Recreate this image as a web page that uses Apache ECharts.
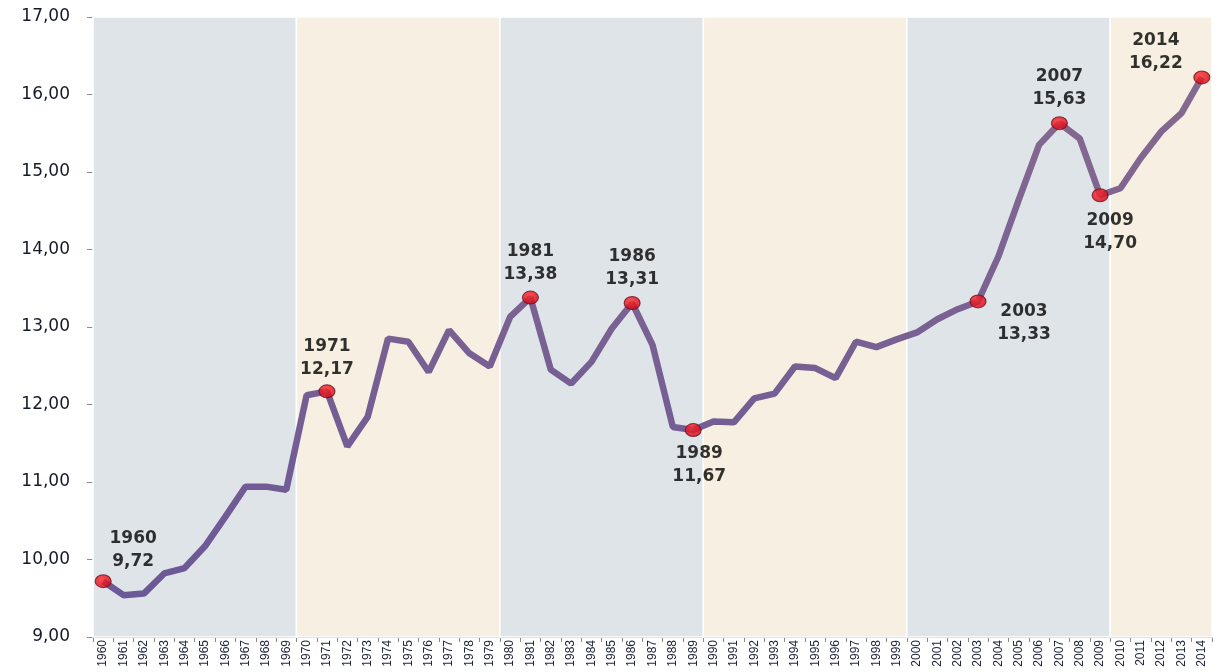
<!DOCTYPE html>
<html>
<head>
<meta charset="utf-8">
<script src="https://cdn.jsdelivr.net/npm/echarts@6/dist/echarts.min.js"></script>
<style>
  html, body { margin: 0; padding: 0; background: #fff; }
  #chart { width: 1220px; height: 672px; }
</style>
</head>
<body>
<div id="chart"></div>
<script>
const years = [];
for (let y = 1960; y <= 2014; y++) years.push(String(y));

const values = [
  9.72, 9.54, 9.56, 9.82, 9.89, 10.17, 10.55, 10.94, 10.94, 10.90,
  12.12, 12.17, 11.46, 11.84, 12.85, 12.81, 12.42, 12.96, 12.66, 12.49,
  13.13, 13.38, 12.45, 12.27, 12.55, 12.98, 13.31, 12.77, 11.71, 11.67,
  11.78, 11.77, 12.08, 12.14, 12.49, 12.47, 12.34, 12.81, 12.74, 12.84,
  12.93, 13.10, 13.23, 13.33, 13.91, 14.64, 15.35, 15.63, 15.43, 14.70,
  14.79, 15.18, 15.52, 15.76, 16.22
];

const highlightYears = ['1960', '1971', '1981', '1986', '1989', '2003', '2007', '2009', '2014'];

const decadeStarts = [1960, 1970, 1980, 1990, 2000, 2010];
const decadeEnds = [1969, 1979, 1989, 1999, 2009, 2014];

// where each highlighted label sits relative to its point
const labelPlace = {
  '1960': { position: 'top', offset: [30, 4] },
  '1971': { position: 'top', offset: [0, 2] },
  '1981': { position: 'top', offset: [0, 0] },
  '1986': { position: 'top', offset: [0, 0] },
  '1989': { position: 'bottom', offset: [6, 0] },
  '2003': { position: 'bottom', offset: [46, -13] },
  '2007': { position: 'top', offset: [0, 0] },
  '2009': { position: 'bottom', offset: [10, 2] },
  '2014': { position: 'top', offset: [-46, 10] }
};

const fmt = v => v.toFixed(2).replace('.', ',');

const bandColors = ['#dfe4e9', '#f7efe2'];
const bands = decadeStarts.map((s, i) => [
  { xAxis: s - 0.5, itemStyle: { color: bandColors[i % 2] } },
  { xAxis: decadeEnds[i] + 0.5 }
]);

const highlightData = highlightYears.map(y => {
  const v = values[years.indexOf(y)];
  return {
    value: [y, v],
    label: {
      show: true,
      position: labelPlace[y].position,
      offset: labelPlace[y].offset,
      formatter: y + '\n' + fmt(v)
    }
  };
});

const chart = echarts.init(document.getElementById('chart'));
chart.setOption({
  animation: false,
  grid: { left: 93, right: 8, top: 17, bottom: 35 },
  xAxis: [
    {
      type: 'category',
      data: years,
      boundaryGap: true,
      axisLine: { lineStyle: { color: '#8c8c8c' } },
      axisTick: { show: true, length: 5, lineStyle: { color: '#8c8c8c' } },
      axisLabel: {
        interval: 0,
        rotate: 90,
        margin: 3,
        fontFamily: 'Liberation Sans',
        fontSize: 12,
        color: '#22263a'
      },
      splitLine: { show: false }
    },
    {
      type: 'value',
      min: 1959.5,
      max: 2014.5,
      show: false
    }
  ],
  yAxis: {
    type: 'value',
    min: 9,
    max: 17,
    interval: 1,
    axisLine: { show: true, lineStyle: { color: '#8c8c8c' } },
    axisTick: { show: true, length: 6, lineStyle: { color: '#8c8c8c' } },
    axisLabel: {
      formatter: v => fmt(v),
      fontFamily: 'DejaVu Sans',
      fontSize: 17,
      color: '#141a28',
      margin: 23
    },
    splitLine: { lineStyle: { color: '#c4c4c4', width: 1 } }
  },
  series: [
    {
      type: 'line',
      xAxisIndex: 1,
      data: [],
      silent: true,
      markArea: {
        silent: true,
        itemStyle: { borderColor: '#ffffff', borderWidth: 1.5 },
        data: bands
      },
      z: 0
    },
    {
      type: 'line',
      data: values,
      symbol: 'none',
      lineStyle: {
        width: 6.5,
        color: new echarts.graphic.LinearGradient(0, 0, 0, 1, [
          { offset: 0, color: '#86698f' },
          { offset: 1, color: '#6b5896' }
        ])
      },
      z: 2
    },
    {
      type: 'scatter',
      data: highlightData,
      symbol: 'circle',
      symbolSize: [16, 13],
      itemStyle: {
        color: new echarts.graphic.RadialGradient(0.4, 0.35, 0.7, [
          { offset: 0, color: '#ff2a2a' },
          { offset: 1, color: '#d00010' }
        ]),
        borderColor: '#6a1020',
        borderWidth: 1
      },
      label: {
        fontFamily: 'DejaVu Sans',
        fontWeight: 'bold',
        fontSize: 17,
        lineHeight: 23,
        color: '#000000',
        align: 'center',
        distance: 5
      },
      z: 3
    }
  ]
});
</script>
</body>
</html>
